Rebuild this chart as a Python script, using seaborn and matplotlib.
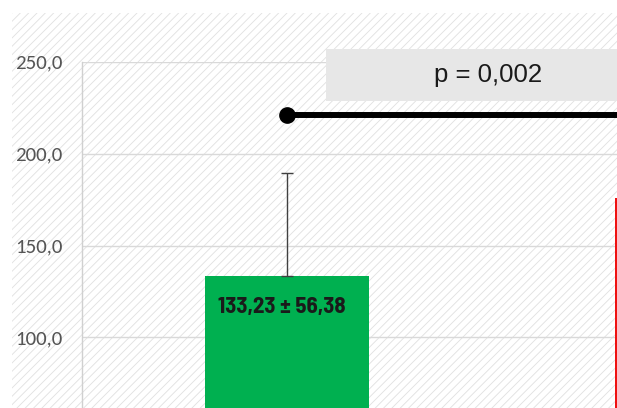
import matplotlib
matplotlib.use("Agg")
import matplotlib.pyplot as plt
from matplotlib.patches import Rectangle
from matplotlib.ticker import FuncFormatter
import seaborn as sns
import pandas as pd

# Group means and standard deviation
grupos = ["Grupo 1", "Grupo 2"]
medias = [133.23, 176.0]
desvios = [56.38]
cores = ["#00b050", "#ee1111"]
rotulo_barra = "133,23 ± 56,38"
rotulo_p = "p = 0,002"
nivel_comparacao = 221.0
yticks = [100, 150, 200, 250]

df = pd.DataFrame({"grupo": grupos, "media": medias})

sns.set_style("white")
plt.rcParams["font.family"] = ["Carlito", "DejaVu Sans"]
plt.rcParams["hatch.linewidth"] = 0.6

W, H = 617, 408
fig = plt.figure(figsize=(W / 100, H / 100), dpi=100)
fig.patch.set_facecolor("white")

# Diagonal striped chart-area background
bg = Rectangle((12 / W, 0), 1 - 12 / W, (H - 13) / H, transform=fig.transFigure,
               facecolor="white", edgecolor="#e0e0e0", hatch="////", linewidth=0,
               zorder=-5)
fig.patches.append(bg)

# Plot area (extends past the canvas on the right and bottom)
left_px, top_px = 82, 61.7
unit_x = 410.0          # pixels per category
unit_y = 1.838          # pixels per y unit
ax_w = 2 * unit_x
ax_h = 250 * unit_y
ax = fig.add_axes([left_px / W, (H - top_px - ax_h) / H, ax_w / W, ax_h / H])
ax.set_zorder(1)
ax.patch.set_alpha(0)

sns.barplot(data=df, x="grupo", y="media", hue="grupo", palette=cores,
            saturation=1, width=0.4, linewidth=0, legend=False, errorbar=None,
            ax=ax, zorder=2)

ax.errorbar(x=[0], y=[medias[0]], yerr=[[0], [desvios[0]]], fmt="none",
            ecolor="#404040", elinewidth=1.0, capsize=4.5, capthick=1.0, zorder=3)

ax.set_xlim(-0.5, 1.5)
ax.set_ylim(0, 250)
ax.set_yticks(yticks)
ax.yaxis.set_major_formatter(FuncFormatter(lambda v, _: f"{v:.1f}".replace(".", ",")))
ax.tick_params(axis="y", length=0, pad=14, labelsize=15, labelcolor="#555555")
ax.set_xticks([])
ax.set_xlabel("")
ax.set_ylabel("")
ax.grid(axis="y", color="#d9d9d9", linewidth=1.0, zorder=1)
ax.set_axisbelow(True)
for side in ["top", "right", "bottom"]:
    ax.spines[side].set_visible(False)
ax.spines["left"].set_color("#d0d0d0")
ax.spines["left"].set_linewidth(1.0)

# Value label inside the green bar
ax.text(-0.012, 116.5, rotulo_barra, ha="center", va="center", fontsize=16.5,
        fontweight="bold", color="#1a1a1a",
        family=["Barlow Semi Condensed", "DejaVu Sans"], zorder=4)

# Significance bracket and p-value box
ax.plot([0, 1], [nivel_comparacao, nivel_comparacao], color="black", lw=4.3,
        solid_capstyle="butt", zorder=4, clip_on=False)
ax.plot([0, 1], [nivel_comparacao, nivel_comparacao], "o", color="black",
        markersize=11, zorder=5, clip_on=False)
ax.add_patch(Rectangle((0.094, 228.8), 0.812, 27.9, facecolor="#e7e7e7",
                       edgecolor="none", zorder=3, clip_on=False))
ax.text(0.49, 242.8, rotulo_p, ha="center", va="center", fontsize=18.5,
        color="#1a1a1a", family=["Liberation Sans", "DejaVu Sans"], zorder=4,
        clip_on=False)

fig.savefig("out.png", dpi=100)
